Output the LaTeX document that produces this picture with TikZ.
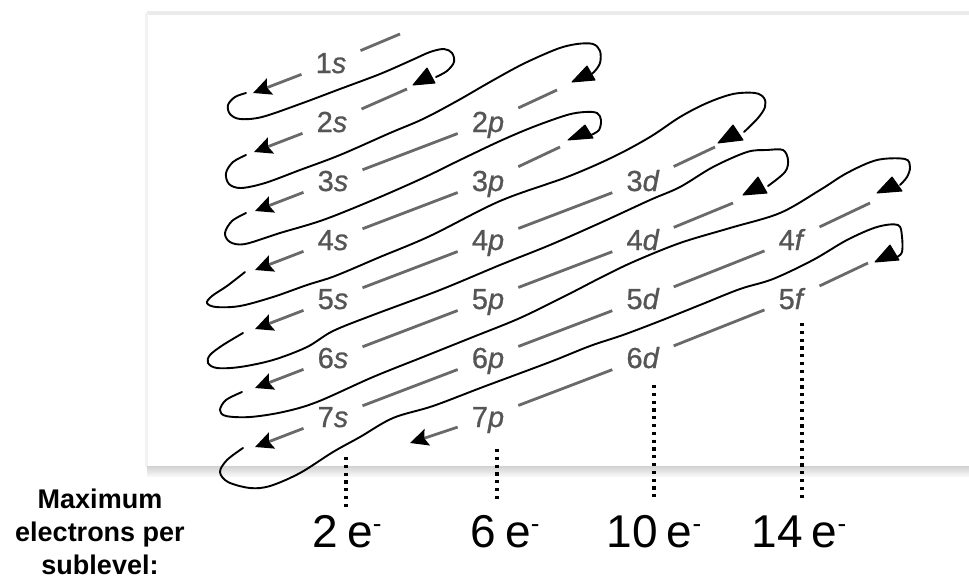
\documentclass[tikz,border=0pt]{standalone}
\usepackage{fontspec}
\setmainfont{Liberation Sans}
\newfontfamily\lblf[FakeBold=0.8]{Liberation Sans}
\usetikzlibrary{arrows.meta,calc}
\definecolor{lbl}{RGB}{85,85,85}
\definecolor{gln}{RGB}{105,105,105}
\begin{document}
\begin{tikzpicture}[x=1pt,y=-1pt,
  lab/.style={text=lbl, font=\lblf\fontsize{29}{29}\selectfont, text height=20pt, text depth=0pt, inner xsep=14pt, inner ysep=6pt},
  gl/.style={draw=gln, line width=2.8pt},
  garr/.style={gl, -{Stealth[length=18pt,width=17pt,inset=3pt,color=black]}},
  hand/.style={black, line width=1.9pt, line cap=round, line join=round},
  tri/.style={fill=black, draw=black, line width=1pt, line join=round},
  dots/.style={black, line width=3.2pt, dash pattern=on 3.2pt off 4.6pt},
  maxe/.style={font=\fontsize{46}{46}\selectfont, anchor=base, inner sep=0pt}
]
\useasboundingbox (0,0) rectangle (969,579);
% panel
\fill[white] (147,13) rectangle (969,467);
\fill[black!8] (147,11) rectangle (969,15);
\fill[black!5] (145,13) rectangle (148,467);
\shade[top color=black!18, bottom color=black!3] (147,466) rectangle (969,476);

% labels
\node[lab] (s1) at (331,63) {1\textit{s}};
\node[lab] (s2) at (332,122) {2\textit{s}};
\node[lab] (p2) at (488,122) {2\textit{p}};
\node[lab] (s3) at (333,181) {3\textit{s}};
\node[lab] (p3) at (488,181) {3\textit{p}};
\node[lab] (d3) at (643,181) {3\textit{d}};
\node[lab] (s4) at (333,240) {4\textit{s}};
\node[lab] (p4) at (488,240) {4\textit{p}};
\node[lab] (d4) at (643,240) {4\textit{d}};
\node[lab] (f4) at (792,240) {4\textit{f}};
\node[lab] (s5) at (333,299) {5\textit{s}};
\node[lab] (p5) at (488,299) {5\textit{p}};
\node[lab] (d5) at (643,299) {5\textit{d}};
\node[lab] (f5) at (792,299) {5\textit{f}};
\node[lab] (s6) at (333,358) {6\textit{s}};
\node[lab] (p6) at (488,358) {6\textit{p}};
\node[lab] (d6) at (643,358) {6\textit{d}};
\node[lab] (s7) at (333,417) {7\textit{s}};
\node[lab] (p7) at (488,417) {7\textit{p}};

% diagonal segments
\draw[gl] (s3) -- (p2);
\draw[gl] (s4) -- (p3);
\draw[gl] (s5) -- (p4);
\draw[gl] (p4) -- (d3);
\draw[gl] (s6) -- (p5);
\draw[gl] (p5) -- (d4);
\draw[gl] (s7) -- (p6);
\draw[gl] (p6) -- (d5);
\draw[gl] (d5) -- (f4);
\draw[gl] (p7) -- (d6);
\draw[gl] (d6) -- (f5);

% upper stubs
\coordinate (e1) at (400,34);
\coordinate (e2) at (407,89);
\coordinate (e3) at (557,90);
\coordinate (e4) at (560,147);
\coordinate (e5) at (715,147);
\coordinate (e6) at (733,203);
\coordinate (e7) at (870,203);
\coordinate (e8) at (868,263);
\draw[gl] (s1) -- (e1);
\draw[gl] (s2) -- (e2);
\draw[gl] (p2) -- (e3);
\draw[gl] (p3) -- (e4);
\draw[gl] (d3) -- (e5);
\draw[gl] (d4) -- (e6);
\draw[gl] (f4) -- (e7);
\draw[gl] (f5) -- (e8);

% lower arrows
\foreach \n in {s1,s2,s3,s4,s5,s6,s7}{
  \coordinate (a\n) at ($(\n)+(-78,30)$);
  \draw[garr] (\n) -- (a\n);
}
\coordinate (ap7) at ($(p7)+(-78,26)$);
\draw[garr] (p7) -- (ap7);

% hand-drawn path
\draw[hand] plot[smooth, tension=0.55] coordinates {(246,93) (235,97) (228,105) (230,114) (240,119) (262,117) (300,104) (340,89) (380,74) (412,60) (430,52) (444,49) (452,53) (454,62) (447,71) (436,77)};
\draw[hand] plot[smooth, tension=0.55] coordinates {(246,155) (233,162) (226,173) (229,184) (241,188) (265,183) (300,170) (340,155) (390,133) (423,119) (457,101) (490,82) (523,64) (557,49) (577,44) (593,44) (600,51) (600,63) (594,72) (588,76)};
\draw[hand] plot[smooth, tension=0.55] coordinates {(246,213) (232,221) (225,233) (230,242) (245,244) (280,233) (323,220) (373,200) (423,178) (460,160) (500,141) (533,127) (567,115) (585,112) (597,113) (601,120) (599,130) (591,135)};
\draw[hand] plot[smooth, tension=0.55] coordinates {(245,272) (227,286) (212,296) (207,303) (216,307) (240,306) (273,297) (307,285) (335,276) (380,257) (430,236) (500,201) (567,177) (613,157) (650,137) (680,117) (707,103) (733,94) (755,93) (764,98) (765,107) (758,118) (744,132)};
\draw[hand] plot[smooth, tension=0.55] coordinates {(243,333) (223,345) (210,355) (208,363) (217,368) (240,367) (273,360) (307,347) (333,331) (373,315) (440,290) (500,265) (550,245) (600,223) (650,200) (680,187) (713,167) (747,152) (767,150) (783,150) (788,160) (785,172) (768,186)};
\draw[hand] plot[smooth, tension=0.55] coordinates {(242,392) (226,400) (220,410) (226,416) (250,417) (283,412) (317,402) (373,377) (423,357) (473,337) (520,318) (567,295) (600,278) (633,262) (680,243) (730,228) (780,213) (820,190) (847,173) (877,160) (905,159) (910,167) (907,177) (900,185)};
\draw[hand] plot[smooth, tension=0.55] coordinates {(243,448) (227,460) (220,472) (228,482) (250,488) (270,486) (300,473) (333,452) (360,437) (393,418) (433,406) (483,387) (550,362) (590,346) (623,335) (660,321) (700,305) (740,289) (773,279) (813,260) (847,240) (877,227) (898,225) (902,237) (902,252) (897,257)};

% triangles
\fill[tri] (413,85) -- (435,83) -- (427,68) -- cycle;
\fill[tri] (572,82) -- (595,80) -- (587,66) -- cycle;
\fill[tri] (568,140) -- (593,138) -- (585,125) -- cycle;
\fill[tri] (718,143) -- (743,140) -- (733,125) -- cycle;
\fill[tri] (743,195) -- (767,193) -- (758,177) -- cycle;
\fill[tri] (877,193) -- (902,191) -- (892,177) -- cycle;
\fill[tri] (875,262) -- (899,260) -- (890,245) -- cycle;

% bottom labels
\node[maxe] (m2) at (347,547) {2\kern9pt e\raisebox{15pt}{\fontsize{26}{26}\selectfont -}};
\node[maxe] (m6) at (505,547) {6\kern9pt e\raisebox{15pt}{\fontsize{26}{26}\selectfont -}};
\node[maxe] (m10) at (654,547) {10\kern9pt e\raisebox{15pt}{\fontsize{26}{26}\selectfont -}};
\node[maxe] (m14) at (799,547) {14\kern9pt e\raisebox{15pt}{\fontsize{26}{26}\selectfont -}};
\coordinate (t2) at (346,457); \coordinate (b2) at (346,511);
\coordinate (t6) at (497,449); \coordinate (b6) at (497,503);
\coordinate (t10) at (654,385); \coordinate (b10) at (654,497);
\coordinate (t14) at (802,323); \coordinate (b14) at (802,500);
\draw[dots] (t2) -- (b2);
\draw[dots] (t6) -- (b6);
\draw[dots] (t10) -- (b10);
\draw[dots] (t14) -- (b14);

\node[font=\bfseries\fontsize{27}{33}\selectfont, align=center, anchor=north, inner sep=0pt] (mx) at (100,489) {Maximum\\electrons per\\sublevel:};
\end{tikzpicture}
\end{document}
